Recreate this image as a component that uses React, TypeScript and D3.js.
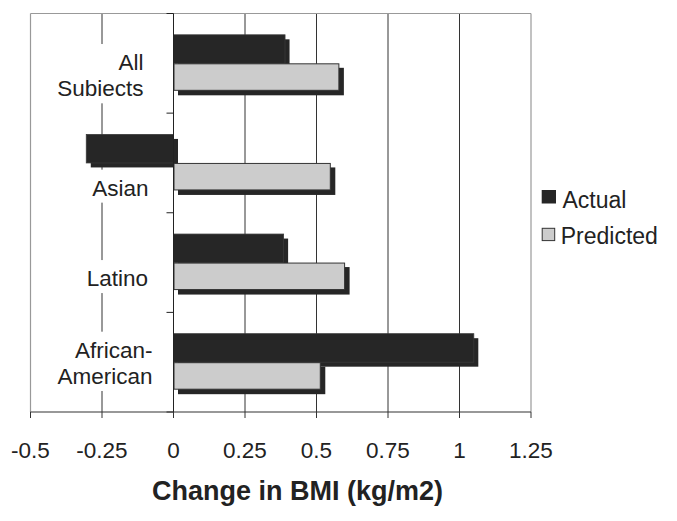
import React from "react";
import * as d3 from "d3";

// ---- data ----
const categories = ["All Subiects", "Asian", "Latino", "African-American"];
const categoryLines = [["All", "Subiects"], ["Asian"], ["Latino"], ["African-", "American"]];
const actualValues = [0.39, -0.305, 0.385, 1.05];
const predictedValues = [0.58, 0.55, 0.6, 0.515];
const xTickValues = [-0.5, -0.25, 0, 0.25, 0.5, 0.75, 1, 1.25];
const xTickLabels = ["-0.5", "-0.25", "0", "0.25", "0.5", "0.75", "1", "1.25"];
const seriesNames = ["Actual", "Predicted"];
const axisTitle = "Change in BMI (kg/m2)";

// ---- layout ----
const W = 677;
const H = 521;
const plotLeft = 30.5;
const plotRight = 531;
const plotTop = 13.5;
const plotBottom = 412;
const barH = 28.5;
const shadow = 4.5;
const labelDy = [6.7, 32.7, 23.5, -4.5];
const labelXEnd = [143.5, 148.5, 148, 152.5];
const lineGap = 26.3;
const FONT = "'Liberation Sans', Arial, Helvetica, sans-serif";
const DARK = "#262626";
const LIGHT = "#cccccc";

export default function App() {
  const x = d3.scaleLinear().domain([-0.5, 1.25]).range([plotLeft, plotRight]);
  const y = d3.scaleBand<string>().domain(categories).range([plotTop, plotBottom]).padding(0);
  const bw = y.bandwidth();
  const bandEdges = categories.map((c) => y(c) as number).concat([plotBottom]);
  const x0 = x(0);

  return (
    <svg
      width={W}
      height={H}
      style={{ position: "absolute", left: 0, top: 0, background: "#fff" }}
      fontFamily={FONT}
    >
      <rect x={0} y={0} width={W} height={H} fill="#fff" />
      {/* gridlines */}
      {xTickValues
        .filter((v) => v !== -0.5 && v !== 1.25 && v !== 0)
        .map((v) => (
          <line key={"g" + v} x1={x(v)} x2={x(v)} y1={plotTop} y2={plotBottom} stroke="#333" strokeWidth={1} />
        ))}
      {/* plot border */}
      <line x1={plotLeft} x2={plotRight} y1={plotTop} y2={plotTop} stroke="#999" strokeWidth={1.2} />
      <line x1={plotLeft} x2={plotLeft} y1={plotTop} y2={plotBottom} stroke="#999" strokeWidth={1.2} />
      <line x1={plotRight} x2={plotRight} y1={plotTop} y2={plotBottom} stroke="#999" strokeWidth={1.2} />

      {/* category labels with white backgrounds */}
      {categories.map((c, i) => {
        const cy = (y(c) as number) + bw / 2;
        const lines = categoryLines[i];
        const b0 = cy + labelDy[i];
        const bLast = b0 + (lines.length - 1) * lineGap;
        const maxLen = d3.max(lines, (l) => l.length) as number;
        const wEst = maxLen * 11.8;
        return (
          <g key={"lab" + c}>
            <rect x={labelXEnd[i] - wEst - 4} y={b0 - 26} width={wEst + 8} height={bLast + 7 - (b0 - 26)} fill="#fff" />
            {lines.map((l, j) => (
              <text key={l} x={labelXEnd[i]} y={b0 + j * lineGap} textAnchor="end" fontSize={22.5} fill="#222">
                {l}
              </text>
            ))}
          </g>
        );
      })}

      {/* bars */}
      {categories.map((c, i) => {
        const cy = (y(c) as number) + bw / 2;
        const a = actualValues[i];
        const p = predictedValues[i];
        const ax = Math.min(x(a), x0);
        const aw = Math.abs(x(a) - x0);
        const px = Math.min(x(p), x0);
        const pw = Math.abs(x(p) - x0);
        return (
          <g key={"bar" + c}>
            <rect x={ax + shadow} y={cy - barH + shadow} width={aw} height={barH} fill={DARK} />
            <rect x={ax} y={cy - barH} width={aw} height={barH} fill={DARK} stroke="#3a3a3a" strokeWidth={0.8} />
            <rect x={px + shadow} y={cy + shadow} width={pw} height={barH - 1} fill={DARK} />
            <rect x={px + 0.5} y={cy + 0.5} width={pw - 1} height={barH - 2} fill={LIGHT} stroke="#333" strokeWidth={1} />
          </g>
        );
      })}

      {/* vertical zero axis */}
      <line x1={x0} x2={x0} y1={plotTop} y2={plotBottom} stroke="#222" strokeWidth={1} />
      {bandEdges.map((e, i) => (
        <line key={"yt" + i} x1={x0 - 7} x2={x0} y1={e} y2={e} stroke="#222" strokeWidth={1} />
      ))}

      {/* bottom axis */}
      <line x1={plotLeft} x2={plotRight} y1={plotBottom} y2={plotBottom} stroke="#333" strokeWidth={1.2} />
      {xTickValues.map((v, i) => (
        <g key={"xt" + v}>
          <line x1={x(v)} x2={x(v)} y1={plotBottom} y2={plotBottom + 6} stroke="#333" strokeWidth={1} />
          <text x={x(v)} y={458} textAnchor="middle" fontSize={22.5} fill="#222">
            {xTickLabels[i]}
          </text>
        </g>
      ))}
      <text x={297.5} y={499.5} textAnchor="middle" fontSize={27} fontWeight="bold" fill="#222">
        {axisTitle}
      </text>

      {/* legend */}
      <rect x={541.7} y={190} width={14.3} height={13.5} fill={DARK} />
      <text x={562.5} y={207.5} fontSize={23} fill="#222">
        {seriesNames[0]}
      </text>
      <rect x={542.2} y={228.3} width={12.5} height={12.3} fill={LIGHT} stroke="#333" strokeWidth={1} />
      <text x={560.7} y={244} fontSize={23} fill="#222">
        {seriesNames[1]}
      </text>
    </svg>
  );
}
